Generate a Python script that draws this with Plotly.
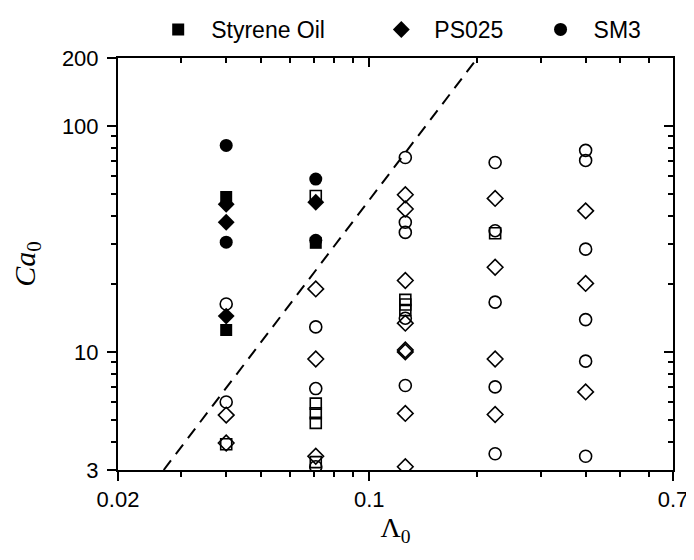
import numpy as np
import plotly.graph_objects as go

# column positions (Lambda_0)
L1, L2, L3, L4, L5 = 0.04, 0.071, 0.126, 0.224, 0.40

# filled symbols (legend entries)
styrene_x = [L1, L1, L2]
styrene_y = [48.5, 12.5, 30.4]
ps025_x = [L1, L1, L1, L2]
ps025_y = [45.0, 37.5, 14.4, 46.0]
sm3_x = [L1, L1, L2, L2]
sm3_y = [82.0, 30.6, 58.2, 31.2]

# open symbols
open_sq_x = [L1, L2, L2, L2, L2, L2, L3, L3, L3, L4]
open_sq_y = [3.9, 49.0, 5.9, 5.35, 4.85, 3.25, 17.0, 16.2, 15.3, 33.5]
open_di_x = [L1, L1, L2, L2, L2, L3, L3, L3, L3, L3, L3, L3, L3,
             L4, L4, L4, L4, L5, L5, L5]
open_di_y = [5.25, 3.95, 19.0, 9.3, 3.45, 49.6, 42.9, 20.7, 13.4, 10.2, 10.0, 5.34, 3.1,
             47.8, 23.7, 9.3, 5.28, 42.1, 20.1, 6.65]
open_ci_x = [L1, L1, L2, L2, L2, L3, L3, L3, L3, L3,
             L4, L4, L4, L4, L4, L5, L5, L5, L5, L5, L5]
open_ci_y = [16.3, 6.0, 12.9, 6.88, 3.1, 72.5, 37.5, 33.8, 14.1, 7.1,
             68.9, 34.4, 16.6, 7.0, 3.54, 78.0, 70.4, 28.5, 13.9, 9.1, 3.45]

# dashed boundary line
line_x = [0.0268, 0.2]
line_y = [3.0, 200.0]

x_ticks = [0.02, 0.1, 0.7]
x_ticktext = ["0.02", "0.1", "0.7"]
x_minor = [0.03, 0.04, 0.05, 0.06, 0.07, 0.08, 0.09, 0.2, 0.3, 0.4, 0.5, 0.6]
y_ticks = [3, 10, 100, 200]
y_ticktext = ["3", "10", "100", "200"]
y_minor = [4, 5, 6, 7, 8, 9, 20, 30, 40, 50, 60, 70, 80, 90]

SANS = "Liberation Sans, Arial, sans-serif"
SERIF = "Liberation Serif, Times New Roman, serif"
NB = "\u00a0"

fig = go.Figure()

fig.add_trace(go.Scatter(x=line_x, y=line_y, mode="lines", showlegend=False,
                         line=dict(color="black", width=2, dash="12px,8px"),
                         hoverinfo="skip"))

open_style = dict(color="black", line=dict(color="black", width=1.6))
fig.add_trace(go.Scatter(x=open_sq_x, y=open_sq_y, mode="markers", showlegend=False,
                         marker=dict(symbol="square-open", size=11, **open_style)))
fig.add_trace(go.Scatter(x=open_di_x, y=open_di_y, mode="markers", showlegend=False,
                         marker=dict(symbol="diamond-open", size=12, **open_style)))
fig.add_trace(go.Scatter(x=open_ci_x, y=open_ci_y, mode="markers", showlegend=False,
                         marker=dict(symbol="circle-open", size=12, **open_style)))

fig.add_trace(go.Scatter(x=ps025_x, y=ps025_y, mode="markers", name="PS025" + NB * 3,
                         legendrank=2,
                         marker=dict(symbol="diamond", size=13, color="black")))
fig.add_trace(go.Scatter(x=sm3_x, y=sm3_y, mode="markers", name="SM3", legendrank=3,
                         marker=dict(symbol="circle", size=13, color="black")))
fig.add_trace(go.Scatter(x=styrene_x, y=styrene_y, mode="markers",
                         name="Styrene Oil" + NB * 6, legendrank=1,
                         marker=dict(symbol="square", size=12, color="black")))

# dummy trace so the mirrored top/right axes are drawn
fig.add_trace(go.Scatter(x=[None], y=[None], xaxis="x2", yaxis="y2", showlegend=False,
                         hoverinfo="skip"))

xr = [np.log10(0.02), np.log10(0.7)]
yr = [np.log10(3), np.log10(200)]

axis_common = dict(type="log", showgrid=False, zeroline=False, showline=True,
                   linecolor="black", linewidth=2, tickcolor="black", tickwidth=2,
                   ticklen=9, automargin=False)

fig.update_layout(
    width=686,
    height=552,
    template="plotly_white",
    plot_bgcolor="white",
    paper_bgcolor="white",
    margin=dict(l=110, r=21, t=50, b=90),
    font=dict(family=SANS, size=22, color="black"),
    xaxis=dict(range=xr, tickvals=x_ticks, ticktext=x_ticktext, ticks="outside",
               minor=dict(tickvals=x_minor, ticks="outside", ticklen=5,
                          tickwidth=1.5, tickcolor="black"),
               tickfont=dict(family=SANS, size=22),
               title=dict(text="Λ<sub>0</sub>", standoff=4,
                          font=dict(family=SERIF, size=28)),
               **axis_common),
    yaxis=dict(range=yr, tickvals=y_ticks, ticktext=y_ticktext, ticks="outside",
               minor=dict(tickvals=y_minor, ticks="outside", ticklen=5,
                          tickwidth=1.5, tickcolor="black"),
               tickfont=dict(family=SANS, size=22), ticklabelstandoff=4,
               title=dict(text="<i>Ca</i><sub>0</sub>", standoff=22,
                          font=dict(family=SERIF, size=30)),
               **axis_common),
    xaxis2=dict(range=xr, overlaying="x", side="top", anchor="y", tickvals=x_ticks,
                ticks="inside", showticklabels=False,
                minor=dict(tickvals=x_minor, ticks="inside", ticklen=5,
                           tickwidth=1.5, tickcolor="black"),
                **axis_common),
    yaxis2=dict(range=yr, overlaying="y", side="right", anchor="x", tickvals=y_ticks,
                ticks="inside", showticklabels=False,
                minor=dict(tickvals=y_minor, ticks="inside", ticklen=5,
                           tickwidth=1.5, tickcolor="black"),
                **axis_common),
    legend=dict(orientation="h", xref="container", x=0.2, xanchor="left",
                yref="container", y=1.0, yanchor="top",
                font=dict(family=SANS, size=23), bgcolor="rgba(0,0,0,0)",
                traceorder="normal", itemwidth=56),
)

fig.write_html("out.html")
